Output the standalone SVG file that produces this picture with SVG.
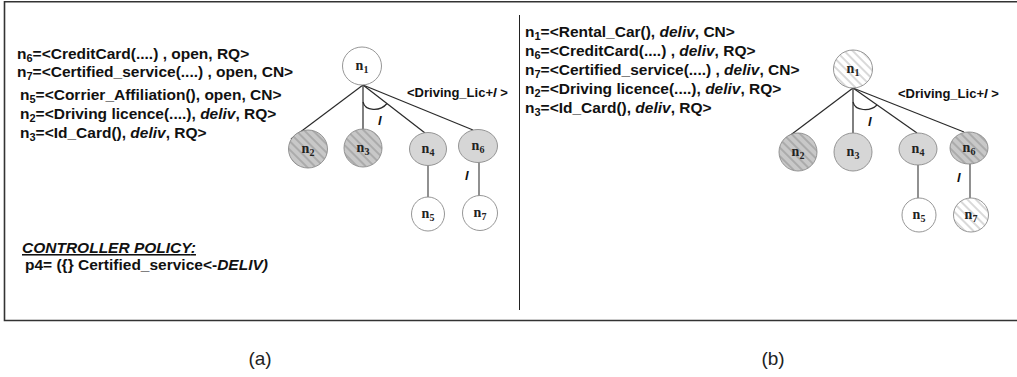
<svg xmlns="http://www.w3.org/2000/svg" width="1017" height="377" viewBox="0 0 1017 377">
  <defs>
    <style>
      .t { font-family: "Liberation Sans", Arial, sans-serif; font-weight: bold; font-size: 15.5px; fill: #111; }
      .i { font-style: italic; }
      .sub { font-size: 11px; }
      .lbl { font-family: "Liberation Sans", Arial, sans-serif; font-weight: bold; font-size: 13px; fill: #111; }
      .cap { font-family: "Liberation Sans", Arial, sans-serif; font-size: 19px; fill: #222; }
      .nl { font-family: "Liberation Serif", "Times New Roman", serif; font-weight: bold; font-size: 14px; fill: #222; }
      .nls { font-size: 10px; }
      .edge { stroke: #2a2a2a; stroke-width: 1.2; fill: none; }
      .stem { stroke: #555; stroke-width: 1.3; fill: none; }
      .node { stroke: #8a8a8a; stroke-width: 0.9; }
      .white { fill: #fff; }
      .gray { fill: #d6d6d6; }
      .hg { fill: url(#hatchGray); }
      .hw { fill: url(#hatchWhite); }
      .frame { stroke: #333; stroke-width: 1.6; fill: none; }
    </style>
    <pattern id="hatchGray" width="6" height="6" patternUnits="userSpaceOnUse" patternTransform="rotate(-45)">
      <rect width="6" height="6" fill="#c8c8c8"/>
      <line x1="3" y1="0" x2="3" y2="6" stroke="#8e8e8e" stroke-width="1"/>
    </pattern>
    <pattern id="hatchWhite" width="6" height="6" patternUnits="userSpaceOnUse" patternTransform="rotate(-45)">
      <rect width="6" height="6" fill="#fff"/>
      <line x1="3" y1="0" x2="3" y2="6" stroke="#b4b4b4" stroke-width="1"/>
    </pattern>
  </defs>

  <rect width="1017" height="377" fill="#fff"/>

  <!-- outer frame (open on the right) and panel divider -->
  <path class="frame" d="M1017,1.8 H4.5 V320.5 H1017"/>
  <line x1="519.5" y1="15" x2="519.5" y2="310" stroke="#222" stroke-width="1"/>

  <!-- panel (a): service descriptions -->
  <g id="text-a">
    <text class="t" x="17" y="59">n<tspan class="sub" dy="3">6</tspan><tspan dy="-3">=&lt;CreditCard(....) , open, RQ&gt;</tspan></text>
    <text class="t" x="17" y="77">n<tspan class="sub" dy="3">7</tspan><tspan dy="-3">=&lt;Certified_service(....) , open, CN&gt;</tspan></text>
    <text class="t" x="20" y="100">n<tspan class="sub" dy="3">5</tspan><tspan dy="-3">=&lt;Corrier_Affiliation(), open, CN&gt;</tspan></text>
    <text class="t" x="20" y="119">n<tspan class="sub" dy="3">2</tspan><tspan dy="-3">=&lt;Driving licence(....), </tspan><tspan class="i">deliv</tspan>, RQ&gt;</text>
    <text class="t" x="20" y="138">n<tspan class="sub" dy="3">3</tspan><tspan dy="-3">=&lt;Id_Card(), </tspan><tspan class="i">deliv</tspan>, RQ&gt;</text>
    <text class="t i" x="22" y="253" text-decoration="underline">CONTROLLER POLICY<tspan text-decoration="none">:</tspan></text>
    <text class="t" x="25" y="270">p4= ({} Certified_service&lt;-<tspan class="i">DELIV)</tspan></text>
  </g>

  <!-- panel (a): connectors -->
  <g id="connectors-a">
    <line class="edge" x1="363" y1="85" x2="291" y2="139"/>
    <line class="edge" x1="363" y1="85" x2="363" y2="129"/>
    <line class="edge" x1="363" y1="85" x2="425" y2="133"/>
    <line class="edge" x1="363" y1="85" x2="473" y2="130"/>
    <path class="edge" d="M363,102 C365,111 380,112 387,103.5"/>
    <line class="stem" x1="428" y1="165.5" x2="428" y2="197"/>
    <line class="stem" x1="479" y1="162.5" x2="479" y2="196"/>
    <text class="lbl i" x="378" y="125">l</text>
    <text class="lbl i" x="465" y="180">l</text>
    <text class="lbl" x="407" y="97">&lt;Driving_Lic+<tspan class="i">l</tspan> &gt;</text>
  </g>

  <!-- panel (a): nodes -->
  <g id="a-n1"><ellipse class="node white" cx="362" cy="66" rx="19.5" ry="19"/><text class="nl" x="362" y="70" text-anchor="middle">n<tspan class="nls" dy="3">1</tspan></text></g>
  <g id="a-n2"><ellipse class="node hg" cx="308" cy="149" rx="19.5" ry="19"/><text class="nl" x="308" y="153" text-anchor="middle">n<tspan class="nls" dy="3">2</tspan></text></g>
  <g id="a-n3"><ellipse class="node hg" cx="363" cy="148" rx="19" ry="19"/><text class="nl" x="363" y="152" text-anchor="middle">n<tspan class="nls" dy="3">3</tspan></text></g>
  <g id="a-n4"><ellipse class="node gray" cx="428" cy="149" rx="18.5" ry="16.5"/><text class="nl" x="428" y="153" text-anchor="middle">n<tspan class="nls" dy="3">4</tspan></text></g>
  <g id="a-n6"><ellipse class="node gray" cx="478" cy="146" rx="19.5" ry="16.5"/><text class="nl" x="478" y="150" text-anchor="middle">n<tspan class="nls" dy="3">6</tspan></text></g>
  <g id="a-n5"><ellipse class="node white" cx="428" cy="214" rx="16.5" ry="17"/><text class="nl" x="428" y="218" text-anchor="middle">n<tspan class="nls" dy="3">5</tspan></text></g>
  <g id="a-n7"><ellipse class="node white" cx="480" cy="213" rx="17.5" ry="17.5"/><text class="nl" x="480" y="217" text-anchor="middle">n<tspan class="nls" dy="3">7</tspan></text></g>

  <!-- panel (b): service descriptions -->
  <g id="text-b">
    <text class="t" x="525" y="37">n<tspan class="sub" dy="3">1</tspan><tspan dy="-3">=&lt;Rental_Car(), </tspan><tspan class="i">deliv</tspan>, CN&gt;</text>
    <text class="t" x="525" y="56">n<tspan class="sub" dy="3">6</tspan><tspan dy="-3">=&lt;CreditCard(....) , </tspan><tspan class="i">deliv</tspan>, RQ&gt;</text>
    <text class="t" x="525" y="75">n<tspan class="sub" dy="3">7</tspan><tspan dy="-3">=&lt;Certified_service(....) , </tspan><tspan class="i">deliv</tspan>, CN&gt;</text>
    <text class="t" x="525" y="94">n<tspan class="sub" dy="3">2</tspan><tspan dy="-3">=&lt;Driving licence(....), </tspan><tspan class="i">deliv</tspan>, RQ&gt;</text>
    <text class="t" x="525" y="113">n<tspan class="sub" dy="3">3</tspan><tspan dy="-3">=&lt;Id_Card(), </tspan><tspan class="i">deliv</tspan>, RQ&gt;</text>
  </g>

  <!-- panel (b): connectors -->
  <g id="connectors-b">
    <line class="edge" x1="853" y1="88" x2="784" y2="140"/>
    <line class="edge" x1="853" y1="88" x2="853" y2="133"/>
    <line class="edge" x1="853" y1="88" x2="917" y2="133"/>
    <line class="edge" x1="853" y1="88" x2="964" y2="132"/>
    <path class="edge" d="M853,102 C855,111 870,112 877,105"/>
    <line class="stem" x1="918" y1="165" x2="918" y2="198"/>
    <line class="stem" x1="970" y1="164" x2="970" y2="198"/>
    <text class="lbl i" x="868" y="126">l</text>
    <text class="lbl i" x="957" y="182">l</text>
    <text class="lbl" x="898" y="98">&lt;Driving_Lic+<tspan class="i">l</tspan> &gt;</text>
  </g>

  <!-- panel (b): nodes -->
  <g id="b-n1"><ellipse class="node hw" cx="853" cy="69" rx="19.5" ry="19"/><text class="nl" x="853" y="73" text-anchor="middle">n<tspan class="nls" dy="3">1</tspan></text></g>
  <g id="b-n2"><ellipse class="node hg" cx="798" cy="152" rx="19" ry="19"/><text class="nl" x="798" y="156" text-anchor="middle">n<tspan class="nls" dy="3">2</tspan></text></g>
  <g id="b-n3"><ellipse class="node gray" cx="853" cy="152" rx="19" ry="19"/><text class="nl" x="853" y="156" text-anchor="middle">n<tspan class="nls" dy="3">3</tspan></text></g>
  <g id="b-n4"><ellipse class="node gray" cx="918" cy="149" rx="19" ry="16"/><text class="nl" x="918" y="153" text-anchor="middle">n<tspan class="nls" dy="3">4</tspan></text></g>
  <g id="b-n6"><ellipse class="node hg" cx="969" cy="148" rx="19" ry="16"/><text class="nl" x="969" y="152" text-anchor="middle">n<tspan class="nls" dy="3">6</tspan></text></g>
  <g id="b-n5"><ellipse class="node white" cx="919" cy="215" rx="17" ry="17"/><text class="nl" x="919" y="219" text-anchor="middle">n<tspan class="nls" dy="3">5</tspan></text></g>
  <g id="b-n7"><ellipse class="node hw" cx="971" cy="215" rx="17.5" ry="17"/><text class="nl" x="971" y="219" text-anchor="middle">n<tspan class="nls" dy="3">7</tspan></text></g>

  <!-- panel captions -->
  <text class="cap" x="260" y="365" text-anchor="middle">(a)</text>
  <text class="cap" x="773" y="365" text-anchor="middle">(b)</text>
</svg>
